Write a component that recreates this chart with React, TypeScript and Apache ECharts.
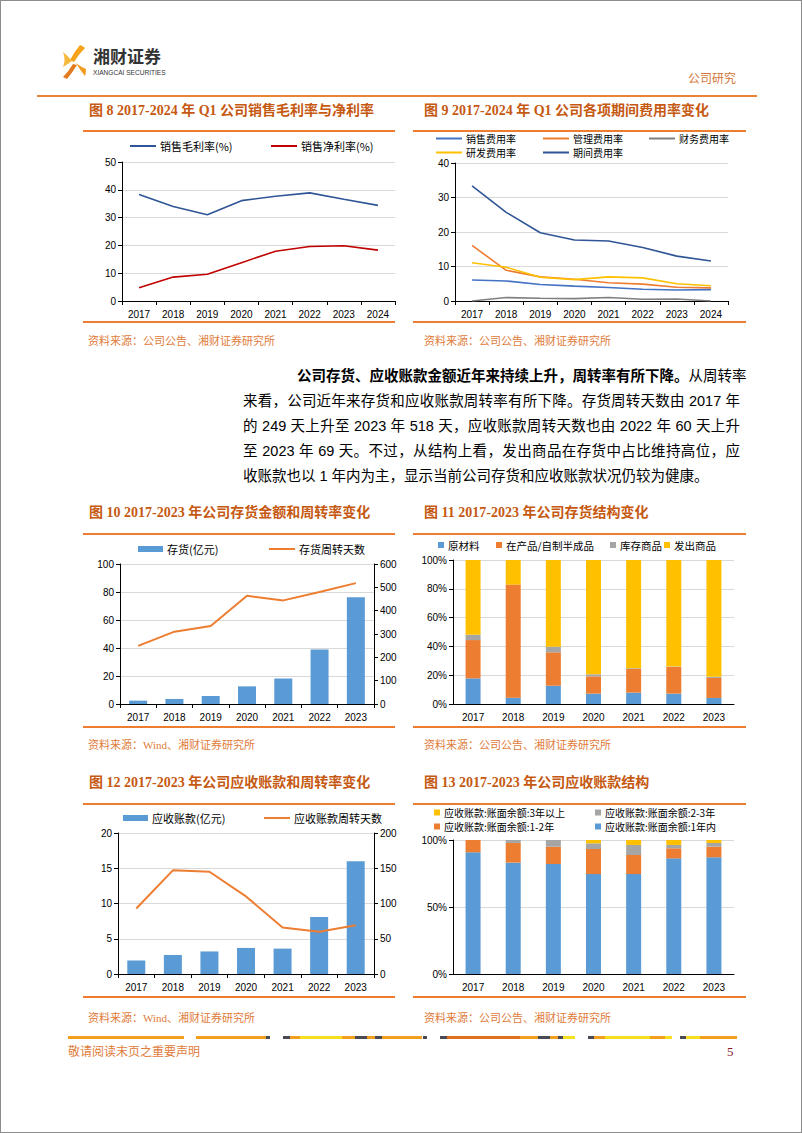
import React, { useEffect, useRef } from 'react';
import * as echarts from 'echarts';

// ---------- data ----------
const years8 = ['2017', '2018', '2019', '2020', '2021', '2022', '2023', '2024'];
const years7 = ['2017', '2018', '2019', '2020', '2021', '2022', '2023'];

const grossMargin = [38.3, 34.0, 31.0, 36.1, 37.7, 38.9, 36.6, 34.4];
const netMargin = [4.8, 8.6, 9.6, 13.8, 17.9, 19.6, 19.9, 18.3];

const sellingRate = [6.1, 5.8, 4.8, 4.3, 3.9, 3.4, 3.2, 3.3];
const adminRate = [16.1, 8.9, 7.0, 6.3, 5.3, 4.9, 4.0, 3.8];
const financeRate = [0.0, 1.0, 0.8, 0.7, 1.0, 0.5, 0.6, 0.0];
const rdRate = [11.1, 9.8, 6.9, 6.2, 7.0, 6.7, 5.0, 4.4];
const periodRate = [33.4, 25.7, 19.8, 17.7, 17.4, 15.5, 13.0, 11.6];

const inventory = [2.4, 3.6, 5.7, 12.6, 18.2, 38.9, 76.3];
const inventoryDays = [249, 310, 334, 464, 444, 480, 518];

const rawMaterial = [17.8, 4.4, 12.7, 7.2, 7.9, 7.2, 4.2];
const wip = [26.6, 78.5, 23.2, 12.0, 16.4, 18.5, 13.9];
const finishedGoods = [3.7, 0.0, 3.9, 1.4, 0.5, 0.3, 0.9];
const shippedGoods = [51.9, 17.1, 60.2, 79.4, 75.2, 74.0, 81.0];

const receivables = [1.9, 2.7, 3.2, 3.7, 3.6, 8.1, 16.0];
const receivableDays = [93, 147, 145, 110, 66, 60, 69];

const recvWithin1y = [90.8, 83.1, 82.1, 74.6, 74.6, 86.3, 87.1];
const recv1to2y = [9.2, 14.7, 12.9, 18.7, 14.2, 7.5, 7.9];
const recv2to3y = [0.0, 2.2, 5.0, 4.2, 7.5, 2.5, 2.8];
const recvOver3y = [0.0, 0.0, 0.0, 2.5, 3.7, 3.7, 2.2];

// ---------- styles ----------
const AXIS_FONT = '"Liberation Sans", Arial, sans-serif';
const CJK_FONT = '"Noto Sans CJK SC", sans-serif';
const TITLE_COLOR = '#C65911';
const SRC_COLOR = '#E07B39';
const RULE_COLOR = '#ED7D31';

const BLUE = '#5B9BD5';
const ORANGE = '#ED7D31';
const GRAY = '#A5A5A5';
const YELLOW = '#FFC000';

function catAxis(gridIndex: number, data: string[], ticks = true) {
  return {
    type: 'category',
    gridIndex,
    data,
    boundaryGap: true,
    axisLine: { show: true, lineStyle: { color: '#000', width: 1 } },
    axisTick: { show: ticks, length: 4, lineStyle: { color: '#000' } },
    axisLabel: { color: '#000', fontSize: 10, fontFamily: AXIS_FONT, margin: 8 },
    splitLine: { show: false },
  };
}

function valAxis(gridIndex: number, min: number, max: number, interval: number, extra: any = {}) {
  return {
    type: 'value',
    gridIndex,
    min,
    max,
    interval,
    axisLine: { show: true, lineStyle: { color: '#000', width: 1 } },
    axisTick: { show: true, length: 4, lineStyle: { color: '#000' } },
    axisLabel: { color: '#000', fontSize: 10, fontFamily: AXIS_FONT, margin: 6 },
    splitLine: { show: true, lineStyle: { color: '#D9D9D9', width: 1 } },
    ...extra,
  };
}

function legendItem(name: string, left: number, cy: number, kind: 'line' | 'bar' | 'square', fontSize = 11) {
  const dims =
    kind === 'line' ? { w: 26, h: 2 } : kind === 'bar' ? { w: 25, h: 6 } : { w: 6, h: 6 };
  const lh = Math.round(fontSize + 1);
  return {
    data: [name],
    left,
    top: cy - lh / 2,
    padding: 0,
    icon: 'rect',
    itemWidth: dims.w,
    itemHeight: dims.h,
    selectedMode: false,
    textStyle: { fontFamily: CJK_FONT, fontSize, color: '#000', lineHeight: lh, padding: [0, 0, 0, -1] },
  };
}

function lineSeries(name: string, data: number[], color: string, xi: number, yi: number, width = 1.6) {
  return {
    type: 'line',
    name,
    data,
    xAxisIndex: xi,
    yAxisIndex: yi,
    symbol: 'none',
    lineStyle: { color, width },
    itemStyle: { color },
  };
}

function barSeries(name: string, data: number[], color: string, xi: number, yi: number, width: number, stack?: string) {
  return {
    type: 'bar',
    name,
    data,
    xAxisIndex: xi,
    yAxisIndex: yi,
    barWidth: width,
    stack,
    itemStyle: { color },
  };
}

const option: any = {
  animation: false,
  backgroundColor: 'transparent',
  grid: [
    { left: 121, top: 161, width: 273, height: 139 },
    { left: 454, top: 162, width: 273, height: 138 },
    { left: 119, top: 563, width: 254, height: 140 },
    { left: 452, top: 559, width: 281, height: 144 },
    { left: 117, top: 832, width: 256, height: 141 },
    { left: 452, top: 839, width: 281, height: 134 },
  ],
  xAxis: [
    catAxis(0, years8),
    catAxis(1, years8),
    catAxis(2, years7),
    catAxis(3, years7, false),
    catAxis(4, years7),
    catAxis(5, years7, false),
  ],
  yAxis: [
    valAxis(0, 0, 50, 10),
    valAxis(1, 0, 40, 10),
    valAxis(2, 0, 100, 20),
    valAxis(2, 0, 600, 100, { position: 'right', splitLine: { show: false } }),
    valAxis(3, 0, 100, 20, { axisLabel: { color: '#000', fontSize: 10, fontFamily: AXIS_FONT, margin: 6, formatter: '{value}%' } }),
    valAxis(4, 0, 20, 5),
    valAxis(4, 0, 200, 50, { position: 'right', splitLine: { show: false } }),
    valAxis(5, 0, 100, 50, { axisLabel: { color: '#000', fontSize: 10, fontFamily: AXIS_FONT, margin: 6, formatter: '{value}%' } }),
  ],
  legend: [
    legendItem('销售毛利率(%)', 129, 145, 'line'),
    legendItem('销售净利率(%)', 270, 145, 'line'),

    legendItem('销售费用率', 435, 137.5, 'line', 10),
    legendItem('管理费用率', 542, 137.5, 'line', 10),
    legendItem('财务费用率', 648, 137.5, 'line', 10),
    legendItem('研发费用率', 435, 151.5, 'line', 10),
    legendItem('期间费用率', 542, 151.5, 'line', 10),

    legendItem('存货(亿元)', 137, 548, 'bar'),
    legendItem('存货周转天数', 268, 548, 'line'),

    legendItem('原材料', 437, 544, 'square', 10.5),
    legendItem('在产品/自制半成品', 495, 544, 'square', 10.5),
    legendItem('库存商品', 609, 544, 'square', 10.5),
    legendItem('发出商品', 663, 544, 'square', 10.5),

    legendItem('应收账款(亿元)', 122, 817, 'bar'),
    legendItem('应收账款周转天数', 263, 817, 'line'),

    legendItem('应收账款:账面余额:3年以上', 433, 811.5, 'square', 10),
    legendItem('应收账款:账面余额:2-3年', 594, 811.5, 'square', 10),
    legendItem('应收账款:账面余额:1-2年', 433, 825.5, 'square', 10),
    legendItem('应收账款:账面余额:1年内', 594, 825.5, 'square', 10),
  ],
  series: [
    lineSeries('销售毛利率(%)', grossMargin, '#2F5597', 0, 0),
    lineSeries('销售净利率(%)', netMargin, '#C00000', 0, 0),

    lineSeries('财务费用率', financeRate, '#7F7F7F', 1, 1),
    lineSeries('销售费用率', sellingRate, '#4472C4', 1, 1),
    lineSeries('管理费用率', adminRate, ORANGE, 1, 1),
    lineSeries('研发费用率', rdRate, YELLOW, 1, 1),
    lineSeries('期间费用率', periodRate, '#2F5597', 1, 1),

    barSeries('存货(亿元)', inventory, BLUE, 2, 2, 18),
    lineSeries('存货周转天数', inventoryDays, ORANGE, 2, 3, 2),

    barSeries('原材料', rawMaterial, BLUE, 3, 4, 15, 'inv'),
    barSeries('在产品/自制半成品', wip, ORANGE, 3, 4, 15, 'inv'),
    barSeries('库存商品', finishedGoods, GRAY, 3, 4, 15, 'inv'),
    barSeries('发出商品', shippedGoods, YELLOW, 3, 4, 15, 'inv'),

    barSeries('应收账款(亿元)', receivables, BLUE, 4, 5, 18),
    lineSeries('应收账款周转天数', receivableDays, ORANGE, 4, 6, 2),

    barSeries('应收账款:账面余额:1年内', recvWithin1y, BLUE, 5, 7, 15, 'recv'),
    barSeries('应收账款:账面余额:1-2年', recv1to2y, ORANGE, 5, 7, 15, 'recv'),
    barSeries('应收账款:账面余额:2-3年', recv2to3y, GRAY, 5, 7, 15, 'recv'),
    barSeries('应收账款:账面余额:3年以上', recvOver3y, YELLOW, 5, 7, 15, 'recv'),
  ],
};

// ---------- page decoration helpers ----------
const abs = (left: number, top: number, extra: React.CSSProperties = {}): React.CSSProperties => ({
  position: 'absolute',
  left,
  top,
  whiteSpace: 'nowrap',
  ...extra,
});

function Txt(props: { x: number; cy: number; size: number; color: string; font?: string; bold?: boolean; children: any; extra?: React.CSSProperties }) {
  const { x, cy, size, color, font, bold, children, extra } = props;
  return (
    <div
      style={abs(x, cy - size * 0.6, {
        fontSize: size,
        lineHeight: `${size * 1.2}px`,
        color,
        fontFamily: font || CJK_FONT,
        fontWeight: bold ? 700 : 400,
        ...extra,
      })}
    >
      {children}
    </div>
  );
}

function Rule(props: { x1: number; x2: number; y: number; h?: number; color?: string }) {
  const h = props.h ?? 2;
  return (
    <div
      style={abs(props.x1, props.y - h / 2, {
        width: props.x2 - props.x1,
        height: h,
        background: props.color || RULE_COLOR,
      })}
    />
  );
}

const TITLE_FONT = '"Liberation Serif", "Noto Sans CJK SC", serif';
const PARA_FONT = '"Liberation Sans", "Noto Sans CJK SC", sans-serif';

const footerSegs: [number, number, string][] = [
  [68, 184, '#F0A01E'],
  [196, 266, '#F0A01E'],
  [266, 270, '#4A4A55'],
  [283, 290, '#4A4A55'],
  [290, 300, '#F0A01E'],
  [300, 342, '#F5E020'],
  [342, 355, '#F0A01E'],
  [355, 367, '#4A4A55'],
  [367, 375, '#F0A01E'],
  [375, 382, '#4A4A55'],
  [382, 422, '#F0A01E'],
  [423, 427, '#4A4A55'],
  [440, 447, '#4A4A55'],
  [447, 520, '#E0701E'],
  [520, 538, '#F0A01E'],
  [538, 550, '#4A4A55'],
  [550, 558, '#F0A01E'],
  [558, 563, '#4A4A55'],
  [563, 575, '#F5E020'],
  [588, 594, '#4A4A55'],
  [594, 605, '#F0A01E'],
  [605, 650, '#F5E020'],
  [650, 665, '#F0A01E'],
  [665, 672, '#F5E020'],
  [680, 686, '#4A4A55'],
  [686, 700, '#F5E020'],
  [700, 737, '#F0A01E'],
];

function Chart() {
  const ref = useRef<HTMLDivElement>(null);
  useEffect(() => {
    if (!ref.current) return;
    const chart = echarts.init(ref.current, undefined, { renderer: 'svg' });
    chart.setOption(option);
    return () => chart.dispose();
  }, []);
  return <div ref={ref} style={{ position: 'absolute', left: 0, top: 0, width: 802, height: 1133 }} />;
}

export default function App() {
  const paraLine: React.CSSProperties = {
    position: 'absolute',
    left: 243,
    width: 497,
    height: 25,
    lineHeight: '25px',
    fontSize: 14.5,
    fontFamily: PARA_FONT,
    color: '#000',
    textAlign: 'justify',
    textAlignLast: 'justify' as any,
    whiteSpace: 'nowrap',
  };
  return (
    <div
      style={{
        position: 'absolute',
        left: 0,
        top: 0,
        width: 802,
        height: 1133,
        background: '#fff',
        overflow: 'hidden',
        boxSizing: 'border-box',
        border: '1px solid #8c8c8c',
      }}
    >
      <Chart />
      <div style={{ position: 'absolute', left: -1, top: -1, width: 802, height: 1133, pointerEvents: 'none' }}>
        {/* header logo */}
        <svg style={{ position: 'absolute', left: 60, top: 42 }} width={30} height={42} viewBox="60 42 30 42">
          <path d="M80,45 Q83,46 85,48 Q78,55 74,62 L70,60 Q74,52 80,45 Z" fill="#F7A21B" />
          <path d="M63,52 Q68,56 72,61 Q68,64 63,67 Q66,60 63,52 Z" fill="#F6B93B" />
          <path d="M73,64 L77,65 Q72,73 67,79 Q65,78 63,77 Q69,71 73,64 Z" fill="#E27A1F" />
          <path d="M76,63 Q81,67 86,69 Q86,73 85,76 Q80,70 76,63 Z" fill="#F29B1D" />
        </svg>
        <Txt x={93} cy={56} size={17} color="#333" font={CJK_FONT} bold>
          湘财证券
        </Txt>
        <Txt
          x={93}
          cy={73}
          size={8}
          color="#333"
          font={AXIS_FONT}
          extra={{ transform: 'scaleX(0.82)', transformOrigin: 'left center' }}
        >
          XIANGCAI SECURITIES
        </Txt>
        <Txt x={688} cy={79} size={12} color="#D4763A" font={TITLE_FONT}>
          公司研究
        </Txt>
        <Rule x1={37} x2={757} y={96} h={2} color="#E8833A" />

        {/* row 1 */}
        <Txt x={89} cy={111} size={14} color={TITLE_COLOR} font={TITLE_FONT} bold>
          图 8 2017-2024 年 Q1 公司销售毛利率与净利率
        </Txt>
        <Txt x={424} cy={111} size={14} color={TITLE_COLOR} font={TITLE_FONT} bold>
          图 9 2017-2024 年 Q1 公司各项期间费用率变化
        </Txt>
        <Rule x1={83} x2={395} y={131} />
        <Rule x1={413} x2={746} y={131} />
        <Rule x1={83} x2={395} y={322} />
        <Rule x1={413} x2={746} y={322} />
        <Txt x={88} cy={342} size={11} color={SRC_COLOR} font={TITLE_FONT}>
          资料来源：公司公告、湘财证券研究所
        </Txt>
        <Txt x={424} cy={342} size={11} color={SRC_COLOR} font={TITLE_FONT}>
          资料来源：公司公告、湘财证券研究所
        </Txt>

        {/* paragraph */}
        <div style={{ ...paraLine, left: 297, width: 443, top: 376 - 12.5 }}>
          <b>公司存货、应收账款金额近年来持续上升，周转率有所下降。</b>从周转率
        </div>
        <div style={{ ...paraLine, top: 401 - 12.5 }}>
          来看，公司近年来存货和应收账款周转率有所下降。存货周转天数由 2017 年
        </div>
        <div style={{ ...paraLine, top: 426 - 12.5 }}>
          的 249 天上升至 2023 年 518 天，应收账款周转天数也由 2022 年 60 天上升
        </div>
        <div style={{ ...paraLine, top: 451 - 12.5 }}>
          至 2023 年 69 天。不过，从结构上看，发出商品在存货中占比维持高位，应
        </div>
        <div style={{ ...paraLine, top: 476 - 12.5, textAlignLast: 'left' as any }}>
          收账款也以 1 年内为主，显示当前公司存货和应收账款状况仍较为健康。
        </div>

        {/* row 2 */}
        <Txt x={89} cy={513} size={14} color={TITLE_COLOR} font={TITLE_FONT} bold>
          图 10 2017-2023 年公司存货金额和周转率变化
        </Txt>
        <Txt x={424} cy={513} size={14} color={TITLE_COLOR} font={TITLE_FONT} bold>
          图 11 2017-2023 年公司存货结构变化
        </Txt>
        <Rule x1={83} x2={395} y={534} />
        <Rule x1={413} x2={746} y={534} />
        <Rule x1={83} x2={395} y={727} />
        <Rule x1={413} x2={746} y={727} />
        <Txt x={88} cy={746} size={11} color={SRC_COLOR} font={TITLE_FONT}>
          资料来源：Wind、湘财证券研究所
        </Txt>
        <Txt x={424} cy={746} size={11} color={SRC_COLOR} font={TITLE_FONT}>
          资料来源：公司公告、湘财证券研究所
        </Txt>

        {/* row 3 */}
        <Txt x={89} cy={783} size={14} color={TITLE_COLOR} font={TITLE_FONT} bold>
          图 12 2017-2023 年公司应收账款和周转率变化
        </Txt>
        <Txt x={424} cy={783} size={14} color={TITLE_COLOR} font={TITLE_FONT} bold>
          图 13 2017-2023 年公司应收账款结构
        </Txt>
        <Rule x1={83} x2={395} y={804} />
        <Rule x1={413} x2={746} y={804} />
        <Rule x1={83} x2={395} y={997} />
        <Rule x1={413} x2={746} y={997} />
        <Txt x={88} cy={1019} size={11} color={SRC_COLOR} font={TITLE_FONT}>
          资料来源：Wind、湘财证券研究所
        </Txt>
        <Txt x={424} cy={1019} size={11} color={SRC_COLOR} font={TITLE_FONT}>
          资料来源：公司公告、湘财证券研究所
        </Txt>

        {/* footer */}
        {footerSegs.map(([a, b, c], i) => (
          <Rule key={i} x1={a} x2={b} y={1037} h={3} color={c} />
        ))}
        <Txt x={68} cy={1052} size={12} color="#E07B39" font={TITLE_FONT}>
          敬请阅读末页之重要声明
        </Txt>
        <Txt x={727} cy={1052} size={13} color="#8B1A2B" font={TITLE_FONT}>
          5
        </Txt>
      </div>
    </div>
  );
}
